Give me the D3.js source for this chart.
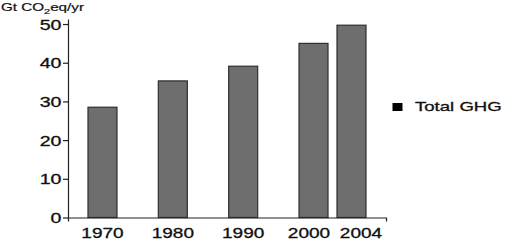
<!DOCTYPE html>
<html>
<head>
<meta charset="utf-8">
<script src="https://cdn.jsdelivr.net/npm/d3@7"></script>
<style>
  html, body { margin: 0; padding: 0; background: #fff; }
  svg { display: block; }
  text { font-family: "Liberation Sans", Arial, sans-serif; fill: #111; stroke: #111; stroke-width: 0.3px; }
</style>
</head>
<body>
<svg id="chart" width="522" height="252"></svg>
<script>
// ---- data ----
const years = ["1970", "1980", "1990", "2000", "2004"];
const emissions = [28.5, 35.3, 39.1, 45.0, 49.7];
const yTicks = [0, 10, 20, 30, 40, 50];
const seriesName = "Total GHG";
const unitMain = "Gt CO";
const unitSub = "2";
const unitTail = "eq/yr";

// ---- layout ----
const svg = d3.select("#chart");
const SX = 1.4; // horizontal stretch of the original artwork's lettering

const y = d3.scaleLinear().domain([0, 51.3]).range([217.5, 19]);
const x = d3.scaleLinear().domain([1970, 2000, 2004]).range([102.5, 313.5, 351.5]);
const frame = d3.scaleLinear().domain([0, 1]).range([68, 386]);
const barW = 29;

// bars
svg.append("g").selectAll("rect")
  .data(years.map((yr, i) => ({ yr, v: emissions[i] })))
  .join("rect")
  .attr("x", d => x(+d.yr) - barW / 2)
  .attr("width", barW)
  .attr("y", d => y(d.v))
  .attr("height", d => y(0) - y(d.v))
  .attr("fill", "#6e6e6e")
  .attr("stroke", "#2e2e2e")
  .attr("stroke-width", 1.2);

// y axis
const yAxis = svg.append("g")
  .attr("transform", `translate(${frame(0)},0)`)
  .call(d3.axisLeft(y).tickValues(yTicks).tickSize(5).tickSizeOuter(0).tickFormat(""));
yAxis.select(".domain").attr("stroke", "#222").attr("stroke-width", 1.2);
yAxis.selectAll(".tick line").attr("stroke", "#222").attr("stroke-width", 1.2);
yAxis.selectAll(".tick").append("text")
  .attr("transform", `translate(-6.5,0) scale(${SX},1)`)
  .attr("text-anchor", "end")
  .attr("dy", "0.36em")
  .style("font-size", "14px")
  .text(d => d);

// x axis (baseline with small end ticks)
const xAxis = svg.append("g")
  .attr("transform", `translate(0,${y(0)})`)
  .call(d3.axisBottom(frame).tickValues([]).tickSizeOuter(4));
xAxis.select(".domain").attr("stroke", "#222").attr("stroke-width", 1.2);

// x labels (nudged apart where the last two bars crowd together)
const labelNudge = { "2000": -4.5, "2004": 9.5 };
svg.append("g").selectAll("text")
  .data(years)
  .join("text")
  .attr("transform", d => `translate(${x(+d) + (labelNudge[d] || 0)},${y(0) + 20.5}) scale(${SX * 0.97},1)`)
  .attr("text-anchor", "middle")
  .style("font-size", "14px")
  .text(d => d);

// unit label
const unit = svg.append("text")
  .attr("transform", `translate(1,11) scale(1.45,1)`)
  .style("font-size", "10.5px")
  .style("stroke-width", "0.2px");
unit.append("tspan").text(unitMain);
unit.append("tspan").attr("dy", "2.5").style("font-size", "7.5px").text(unitSub);
unit.append("tspan").attr("dy", "-2.5").text(unitTail);

// legend
const leg = svg.append("g");
leg.append("rect")
  .attr("x", 392.5).attr("y", 103)
  .attr("width", 10).attr("height", 8)
  .attr("fill", "#000");
leg.append("text")
  .attr("transform", `translate(415,110.8) scale(1.43,1)`)
  .style("font-size", "13px")
  .text(seriesName);
</script>
</body>
</html>
